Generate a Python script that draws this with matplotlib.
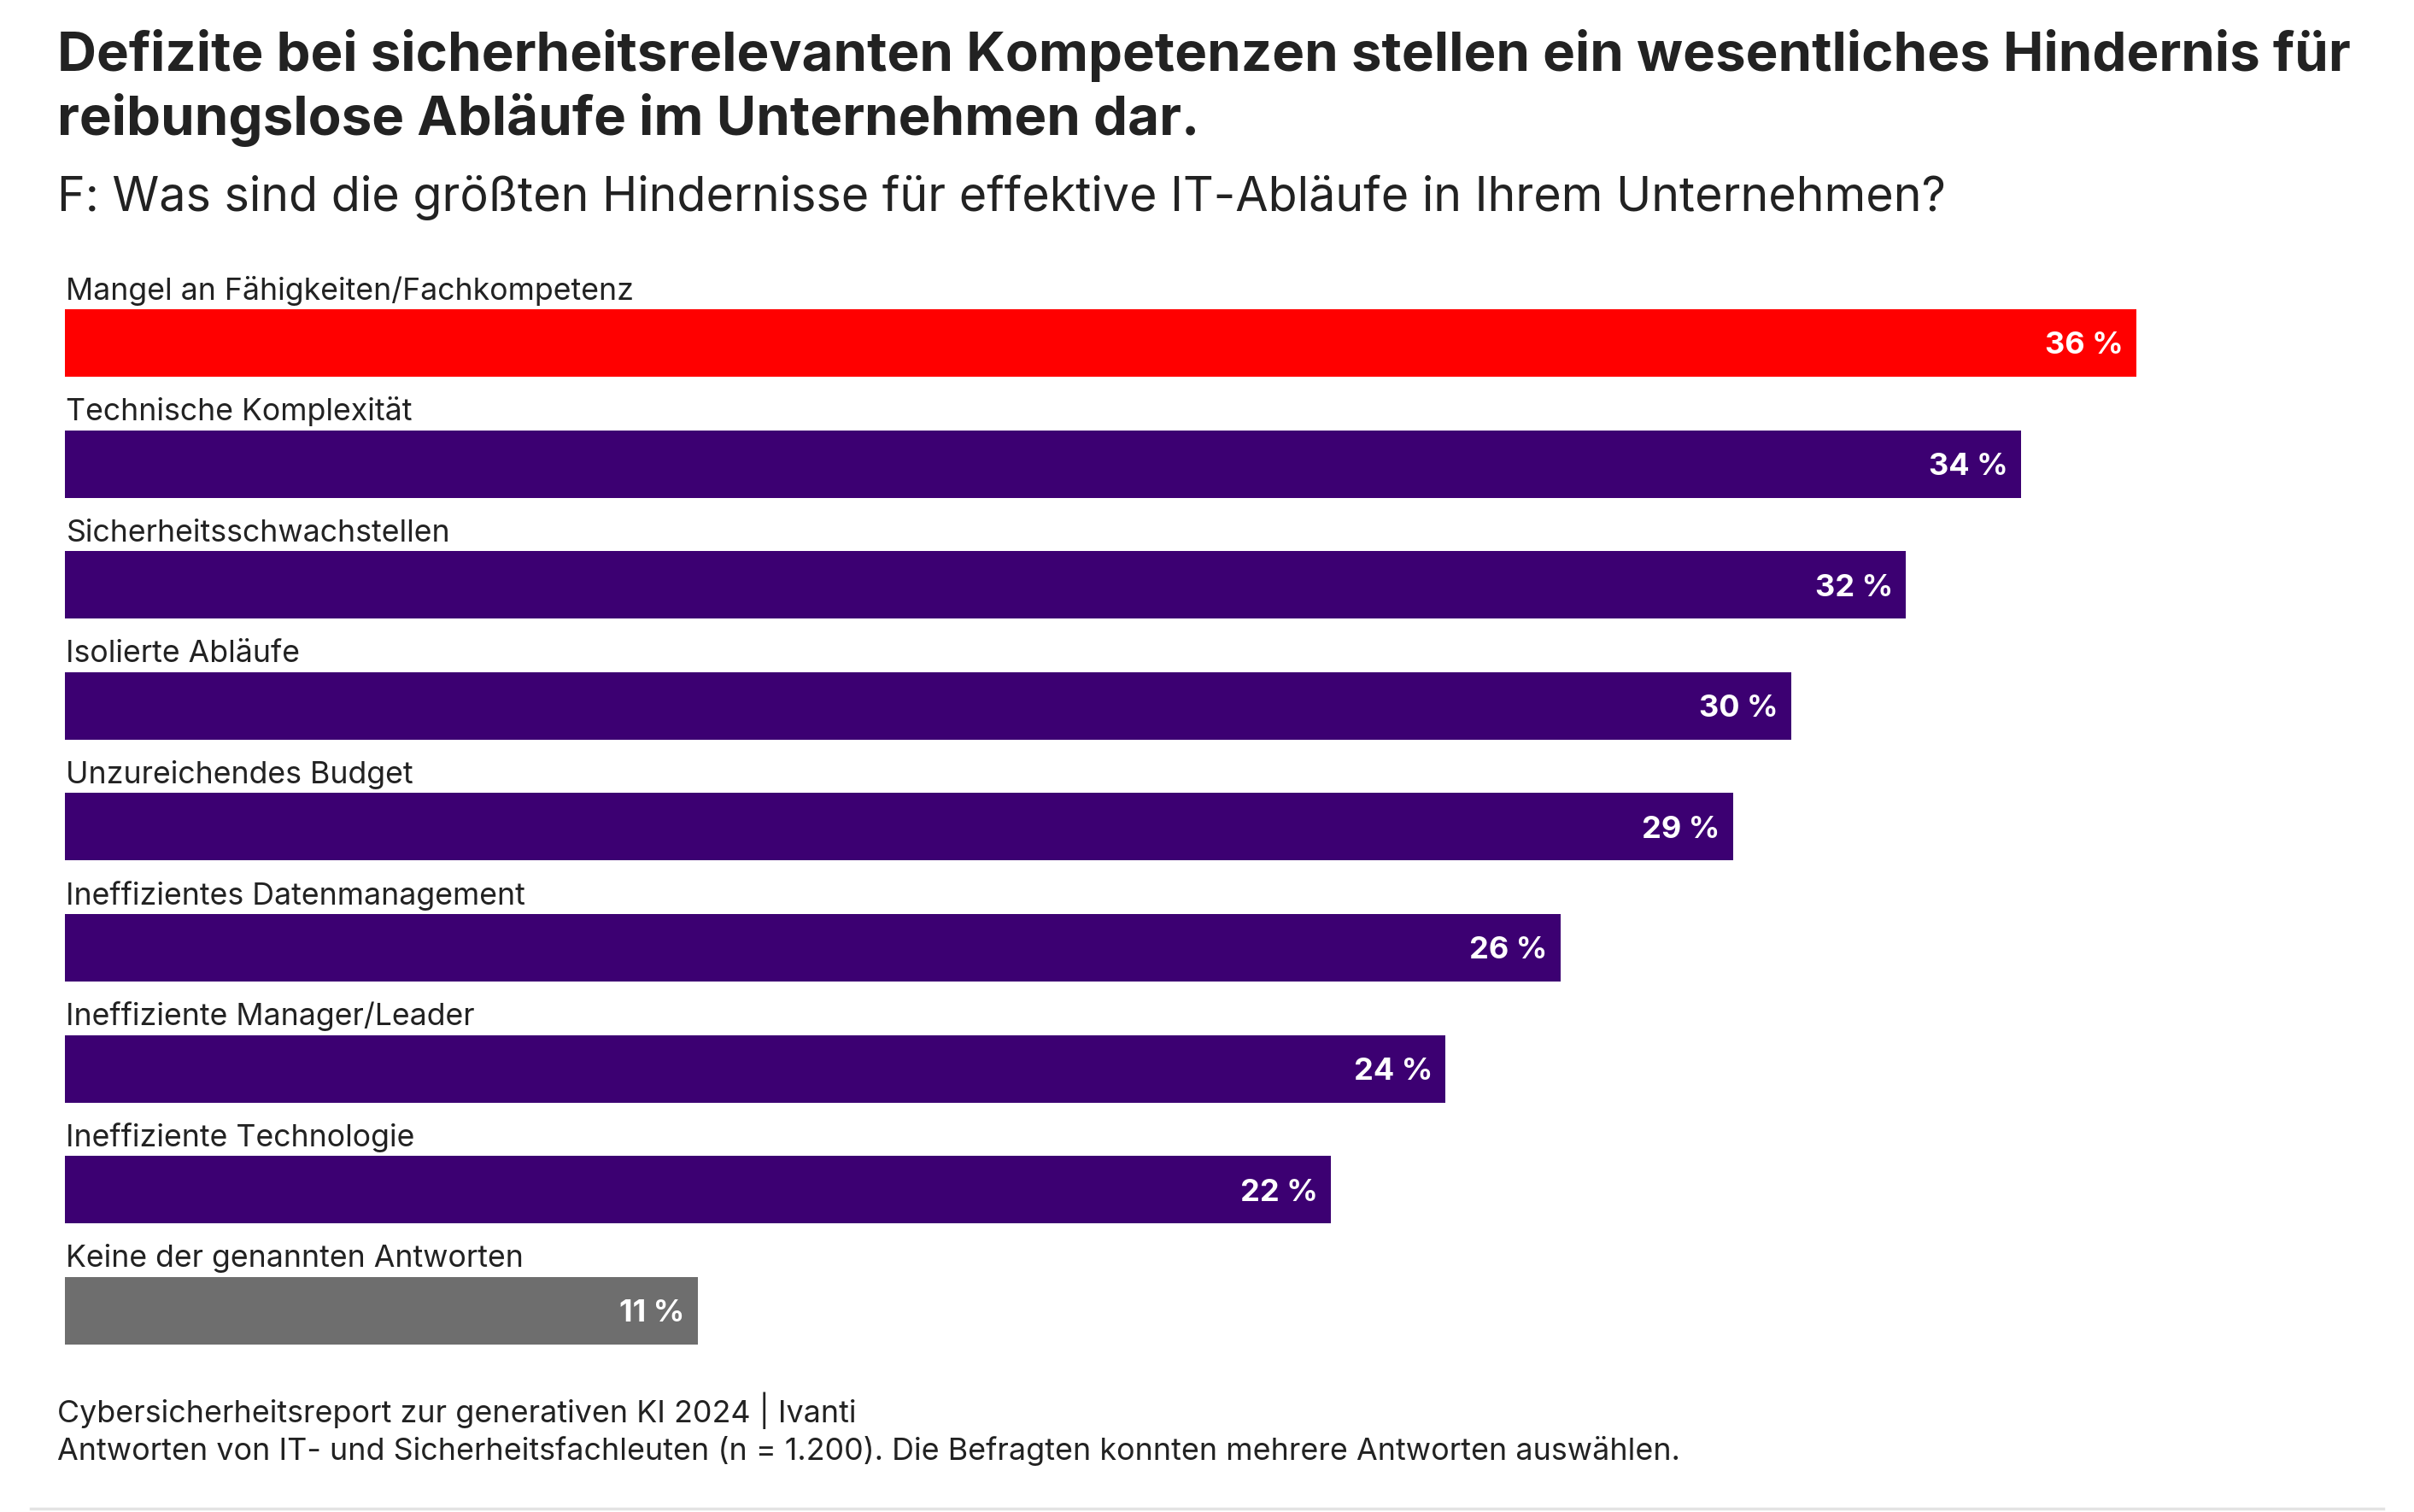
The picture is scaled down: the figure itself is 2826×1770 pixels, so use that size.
import matplotlib
matplotlib.use("Agg")
import matplotlib.pyplot as plt

plt.rcParams['font.family'] = ['Inter', 'DejaVu Sans']

categories = [
    "Mangel an Fähigkeiten/Fachkompetenz",
    "Technische Komplexität",
    "Sicherheitsschwachstellen",
    "Isolierte Abläufe",
    "Unzureichendes Budget",
    "Ineffizientes Datenmanagement",
    "Ineffiziente Manager/Leader",
    "Ineffiziente Technologie",
    "Keine der genannten Antworten",
]
values = [36, 34, 32, 30, 29, 26, 24, 22, 11]
value_labels = ["36 %", "34 %", "32 %", "30 %", "29 %", "26 %", "24 %", "22 %", "11 %"]
bar_colors = ["#FF0000"] + ["#3C0072"] * 7 + ["#6E6E6E"]

title_lines = [
    "Defizite bei sicherheitsrelevanten Kompetenzen stellen ein wesentliches Hindernis für",
    "reibungslose Abläufe im Unternehmen dar.",
]
subtitle = "F: Was sind die größten Hindernisse für effektive IT-Abläufe in Ihrem Unternehmen?"
footer_lines = [
    "Cybersicherheitsreport zur generativen KI 2024 | Ivanti",
    "Antworten von IT- und Sicherheitsfachleuten (n = 1.200). Die Befragten konnten mehrere Antworten auswählen.",
]

W, H, DPI = 2826, 1770, 100
fig = plt.figure(figsize=(W / DPI, H / DPI), dpi=DPI)
fig.patch.set_facecolor("white")

# axes geometry in pixels
unit = 141.6            # px per category
x0 = 76                 # px of value 0
px_per_pct = 67.35
xmax = 40
ytop_lim, ybot_lim = -0.9, 8.6
top_px = 401.5 + ytop_lim * unit
h_px = (ybot_lim - ytop_lim) * unit
ax = fig.add_axes([x0 / W, 1 - (top_px + h_px) / H, xmax * px_per_pct / W, h_px / H])
ax.set_xlim(0, xmax)
ax.set_ylim(ybot_lim, ytop_lim)
ax.axis("off")

bh = 79 / unit
ypos = list(range(len(categories)))
ax.barh(ypos, values, height=bh, color=bar_colors, left=0)

text_col = "#222222"
for i, (cat, v, lab) in enumerate(zip(categories, values, value_labels)):
    ax.text(0.02, i - bh / 2 - 0.08, cat, ha="left", va="baseline",
            fontsize=25.7, color=text_col)
    ax.annotate(lab, xy=(v, i), xytext=(-11, 0), textcoords="offset points",
                ha="right", va="center_baseline", fontsize=26,
                fontweight="bold", color="white")

# title and subtitle
fig.text(67 / W, 1 - 83 / H, title_lines[0], ha="left", va="baseline",
         fontsize=45.8, fontweight="bold", color=text_col)
fig.text(67 / W, 1 - 158 / H, title_lines[1], ha="left", va="baseline",
         fontsize=45.8, fontweight="bold", color=text_col)
fig.text(67 / W, 1 - 247 / H, subtitle, ha="left", va="baseline",
         fontsize=40, color=text_col)

# footer
fig.text(67 / W, 1 - 1665 / H, footer_lines[0], ha="left", va="baseline",
         fontsize=25.8, color=text_col)
fig.text(67 / W, 1 - 1709 / H, footer_lines[1], ha="left", va="baseline",
         fontsize=25.8, color=text_col)

# bottom separator
fig.add_artist(plt.Line2D([36 / W, 2790 / W], [1 - 1766 / H, 1 - 1766 / H],
                          color="#E3E3E3", lw=2.5))

fig.savefig("out.png", dpi=DPI, facecolor="white")
